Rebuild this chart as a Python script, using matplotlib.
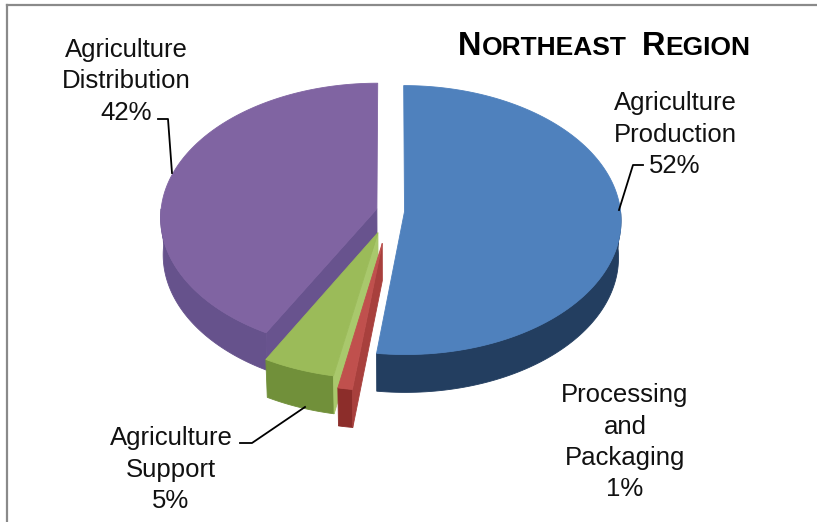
import numpy as np
import matplotlib
matplotlib.use('Agg')
import matplotlib.pyplot as plt
from matplotlib.patches import Polygon

W, H = 817, 522

# slices, clockwise from 12 o'clock
slice_names = [['Agriculture', 'Production'],
               ['Processing', 'and', 'Packaging'],
               ['Agriculture', 'Support'],
               ['Agriculture', 'Distribution']]
shares = [52, 1, 5, 42]
explode = [0.065, 0.24, 0.17, 0.065]
top_colors = ['#4F81BD', '#C0504D', '#9BBB59', '#8064A2']
side_colors = ['#233E60', '#8C2D2A', '#71903A', '#66528C']
cut_colors = ['#2E4F78', '#A8403D', '#A9C86C', '#68538E']

# label anchors: centre x, first baseline y (pixels)
label_pos = [(675, 110), (625, 402), (171, 445), (126, 57)]
leaders = [[(643, 165), (633, 165), (619, 210)],
           None,
           [(240, 443), (252, 443), (305, 407)],
           [(158, 119), (168, 119), (172, 173)]]

# view setup
CX, CY = 390.5, 211
SCALE = 216
ELEV = np.radians(38.3)
FOCAL = 12.4
THICK = 0.221


def project(x, z, y=0.0):
    w = y * np.sin(ELEV) + z * np.cos(ELEV)
    s = FOCAL / (FOCAL - w)
    px = CX + SCALE * x * s
    py = CY + SCALE * (z * np.sin(ELEV) - y * np.cos(ELEV)) * s
    return px, py


def draw_slice(ax, a0, a1, e, top_c, side_c, cut_c):
    mid = 0.5 * (a0 + a1)
    ox, oz = e * np.sin(mid), -e * np.cos(mid)

    # outer wall, only the part facing the viewer
    w0, w1 = max(a0, np.pi / 2), min(a1, 3 * np.pi / 2)
    if w1 > w0:
        tt = np.linspace(w0, w1, 80)
        xt, yt = project(ox + np.sin(tt), oz - np.cos(tt))
        xb, yb = project(ox + np.sin(tt), oz - np.cos(tt), -THICK)
        pts = list(zip(xt, yt)) + list(zip(xb[::-1], yb[::-1]))
        ax.add_patch(Polygon(pts, closed=True, fc=side_c, ec=side_c, lw=0.6))

    # cut faces
    for a, visible in ((a0, np.sin(a0) < -1e-6), (a1, np.sin(a1) > 1e-6)):
        if not visible:
            continue
        vx, vy = project(ox, oz)
        vbx, vby = project(ox, oz, -THICK)
        px, py = project(ox + np.sin(a), oz - np.cos(a))
        pbx, pby = project(ox + np.sin(a), oz - np.cos(a), -THICK)
        pts = [(vx, vy), (px, py), (pbx, pby), (vbx, vby)]
        ax.add_patch(Polygon(pts, closed=True, fc=cut_c, ec=cut_c, lw=0.6))

    # top face
    t = np.linspace(a0, a1, 120)
    xs, ys = project(ox + np.sin(t), oz - np.cos(t))
    vx, vy = project(ox, oz)
    pts = [(vx, vy)] + list(zip(xs, ys))
    ax.add_patch(Polygon(pts, closed=True, fc=top_c, ec=top_c, lw=0.6))


fig = plt.figure(figsize=(W / 100, H / 100), dpi=100)
ax = fig.add_axes([0, 0, 1, 1])
ax.set_xlim(0, W)
ax.set_ylim(H, 0)
ax.axis('off')

# frame
ax.plot([7, 7], [5, H], color='#8a8a8a', lw=1.6)
ax.plot([7, W], [5, 5], color='#8a8a8a', lw=1.6)

bounds = np.concatenate([[0], np.cumsum(shares)]) / sum(shares) * 2 * np.pi
mids = 0.5 * (bounds[:-1] + bounds[1:])
order = np.argsort(-np.cos(mids))
for i in order:
    draw_slice(ax, bounds[i], bounds[i + 1], explode[i],
               top_colors[i], side_colors[i], cut_colors[i])

# data labels
for i, (lx, ly) in enumerate(label_pos):
    lines = slice_names[i] + [f'{shares[i]}%']
    for j, s in enumerate(lines):
        ax.text(lx, ly + 31.5 * j, s, ha='center', va='baseline',
                fontsize=18.5, family='Liberation Sans', color='#111111')
    if leaders[i]:
        xs, ys = zip(*leaders[i])
        ax.plot(xs, ys, color='black', lw=1.3)

# small-caps title
fig.canvas.draw()
renderer = fig.canvas.get_renderer()
title_parts = [('N', 23.5), ('ORTHEAST', 19), (' ', 19), ('R', 23.5), ('EGION', 19)]
x = 458
for s, size in title_parts:
    t = ax.text(x, 55, s, ha='left', va='baseline', fontsize=size,
                family='Liberation Sans', fontweight='bold', color='black')
    bb = t.get_window_extent(renderer)
    x = ax.transData.inverted().transform((bb.x1, bb.y0))[0]
    if s == ' ':
        x += 8

fig.savefig('out.png', dpi=100)
